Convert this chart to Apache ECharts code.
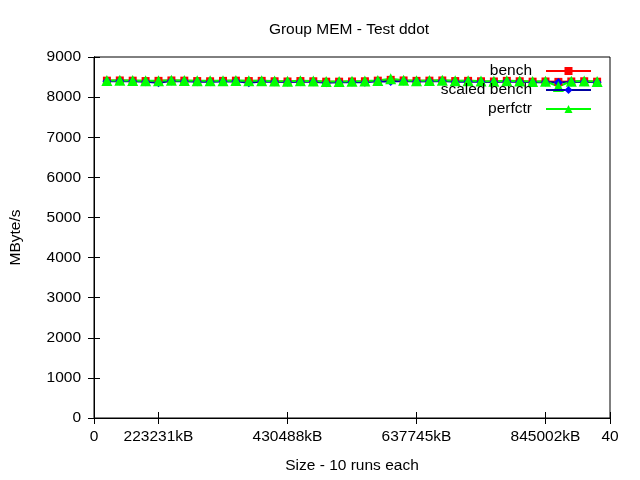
<!DOCTYPE html>
<html><head><meta charset="utf-8">
<script src="https://cdn.jsdelivr.net/npm/echarts@6/dist/echarts.min.js"></script>
<style>html,body{margin:0;padding:0;background:#fff}#c{width:640px;height:480px}</style>
</head><body><div id="c"></div>
<script>
const xIndex = [1,2,3,4,5,6,7,8,9,10,11,12,13,14,15,16,17,18,19,20,21,22,23,24,25,26,27,28,29,30,31,32,33,34,35,36,37,38,39];
const bench = [8410,8415,8410,8400,8405,8415,8410,8400,8395,8405,8410,8400,8405,8395,8390,8400,8395,8385,8385,8390,8395,8410,8430,8415,8405,8410,8415,8400,8405,8395,8390,8405,8395,8385,8390,8380,8390,8395,8385];
const scaledBench = [8395,8400,8395,8385,8360,8400,8395,8385,8380,8390,8395,8360,8390,8380,8375,8385,8380,8360,8370,8375,8370,8395,8390,8400,8390,8395,8400,8385,8390,8380,8375,8390,8380,8370,8375,8365,8375,8380,8370];
const perfctr = [8415,8420,8415,8410,8410,8420,8415,8410,8405,8410,8415,8405,8410,8400,8395,8405,8400,8390,8390,8395,8400,8415,8460,8420,8410,8415,8420,8405,8410,8400,8395,8410,8400,8390,8395,8265,8395,8400,8390];
const xTickPos = [0,5,15,25,35,40];
const xTickLabels = ["0","223231kB","430488kB","637745kB","845002kB","40"];

const F = 'Liberation Sans, Arial, sans-serif';
const FS = 15.5;
const pair = a => a.map((v,i)=>[xIndex[i], v]);
const labelMap = {}; xTickPos.forEach((p,i)=>labelMap[p]=xTickLabels[i]);

const chart = echarts.init(document.getElementById('c'), null, {renderer:'canvas'});
chart.setOption({
  animation:false,
  backgroundColor:'#fff',
  title:{text:'Group MEM - Test ddot', left:344, top:17, textAlign:'center',
    textStyle:{fontFamily:F, fontSize:FS, fontWeight:'normal', color:'#000'}},
  grid:{left:94, right:30, top:57, bottom:62, outerBoundsMode:'none', containLabel:false,
    show:true, borderColor:'#000', borderWidth:1, backgroundColor:'transparent'},
  legend:{orient:'vertical', right:43, top:58, align:'right', itemWidth:45, itemHeight:10, itemGap:3,
    textStyle:{fontFamily:F, fontSize:FS, color:'#000', padding:[0,9,0,0]},
    data:['bench','scaled bench','perfctr']},
  xAxis:[{type:'value', min:0, max:40, position:'bottom',
    name:'Size - 10 runs each', nameLocation:'middle', nameGap:40,
    nameTextStyle:{fontFamily:F, fontSize:FS, color:'#000'},
    axisLine:{show:true, lineStyle:{color:'#000'}},
    axisTick:{inside:true, length:6, customValues:xTickPos, lineStyle:{color:'#000'}},
    axisLabel:{customValues:xTickPos, formatter:v=>labelMap[v]!==undefined?labelMap[v]:'', margin:11,
      fontFamily:F, fontSize:FS, color:'#000'},
    splitLine:{show:false}},
   {type:'value', min:0, max:40, position:'top',
    axisLine:{show:true, lineStyle:{color:'#000'}},
    axisTick:{inside:true, length:6, customValues:xTickPos, lineStyle:{color:'#000'}},
    axisLabel:{show:false}, splitLine:{show:false}}],
  yAxis:[{type:'value', min:0, max:9000, interval:1000, position:'left',
    name:'MByte/s', nameLocation:'middle', nameGap:70,
    nameTextStyle:{fontFamily:F, fontSize:FS, color:'#000'},
    axisLine:{show:true, lineStyle:{color:'#000'}},
    axisTick:{inside:true, length:6, lineStyle:{color:'#000'}},
    axisLabel:{margin:13, formatter:v=>String(v), fontFamily:F, fontSize:FS, color:'#000'},
    splitLine:{show:false}},
   {type:'value', min:0, max:9000, interval:1000, position:'right',
    axisLine:{show:true, lineStyle:{color:'#000'}},
    axisTick:{inside:true, length:6, lineStyle:{color:'#000'}},
    axisLabel:{show:false}, splitLine:{show:false}}],
  series:[
    {name:'bench', type:'line', data:pair(bench), symbol:'rect', symbolSize:8,
      lineStyle:{color:'#ff0000', width:2}, itemStyle:{color:'#ff0000'}},
    {name:'scaled bench', type:'line', data:pair(scaledBench), symbol:'diamond', symbolSize:9,
      lineStyle:{color:'#0000a0', width:2}, itemStyle:{color:'#0000ff'}},
    {name:'perfctr', type:'line', data:pair(perfctr), symbol:'triangle', symbolSize:11,
      lineStyle:{color:'#00ff00', width:2}, itemStyle:{color:'#00ff00'}}
  ]
});
</script></body></html>
